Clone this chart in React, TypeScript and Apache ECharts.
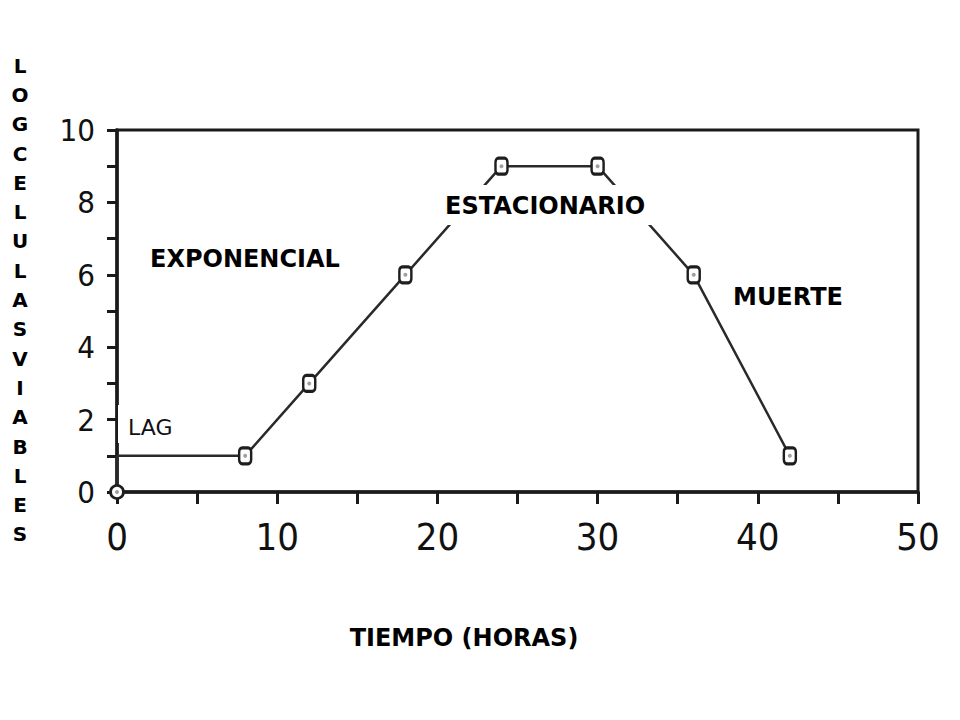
import React, { useEffect, useRef } from "react";
import * as echarts from "echarts";

// Data
const hours = [0, 0, 8, 12, 18, 24, 30, 36, 42];
const logViableCells = [0, 1, 1, 3, 6, 9, 9, 6, 1];
const pointSymbols = ["circle", "none", "roundRect", "roundRect", "roundRect", "roundRect", "roundRect", "roundRect", "roundRect"];
const xTickLabels = [0, 10, 20, 30, 40, 50];
const yTickLabels = [0, 2, 4, 6, 8, 10];
const phaseLabels = ["LAG", "EXPONENCIAL", "ESTACIONARIO", "MUERTE"];
const yTitle = "LOGCELULASVIABLES";
const xTitle = "TIEMPO (HORAS)";

const narrow = "'Liberation Sans Narrow', 'DejaVu Sans Condensed', 'Liberation Sans', sans-serif";
const bold = "'DejaVu Sans', Verdana, sans-serif";

export default function App() {
  const ref = useRef<HTMLDivElement>(null);
  useEffect(() => {
    if (!ref.current) return;
    const chart = echarts.init(ref.current, undefined, { renderer: "svg" });
    const data = hours.map((h, i) => ({
      value: [h, logViableCells[i]],
      symbol: pointSymbols[i],
      symbolSize: pointSymbols[i] === "circle" ? [13, 13] : [12, 16],
    }));
    const dots = hours
      .map((h, i) => ({ value: [h, logViableCells[i]], show: pointSymbols[i] !== "none" }))
      .filter((d) => d.show)
      .map((d) => d.value);
    chart.setOption({
      animation: false,
      backgroundColor: "#ffffff",
      grid: {
        left: 117,
        right: 42,
        top: 130,
        bottom: 228,
        show: true,
        borderColor: "#1a1a1a",
        borderWidth: 3,
      },
      xAxis: {
        type: "value",
        min: 0,
        max: 50,
        interval: 5,
        axisLine: { show: true, lineStyle: { color: "#1a1a1a", width: 3.5 } },
        axisTick: { show: true, length: 12, lineStyle: { color: "#1a1a1a", width: 3 } },
        axisLabel: {
          formatter: (v: number) => (xTickLabels.includes(v) ? String(v) : ""),
          fontSize: 38,
          fontFamily: narrow,
          color: "#111",
          margin: 26,
        },
        splitLine: { show: false },
      },
      yAxis: {
        type: "value",
        min: 0,
        max: 10,
        interval: 1,
        axisLine: { show: true, lineStyle: { color: "#1a1a1a", width: 3.5 } },
        axisTick: { show: true, length: 10, lineStyle: { color: "#1a1a1a", width: 3 } },
        axisLabel: {
          formatter: (v: number) => (yTickLabels.includes(v) ? String(v) : ""),
          fontSize: 31,
          fontFamily: narrow,
          color: "#111",
          margin: 22,
        },
        splitLine: { show: false },
      },
      series: [
        {
          type: "line",
          data,
          lineStyle: { color: "#2a2a2a", width: 2.5 },
          itemStyle: { color: "#ffffff", borderColor: "#1e1e1e", borderWidth: 2.8 },
          z: 3,
        },
        {
          type: "scatter",
          data: dots,
          symbol: "circle",
          symbolSize: 4,
          itemStyle: { color: "#888" },
          z: 4,
          silent: true,
        },
      ],
      graphic: [
        { type: "rect", z: 100, shape: { x: 118, y: 405, width: 64, height: 38 }, style: { fill: "#fff" } },
        {
          type: "text", z: 101, x: 128, y: 427,
          style: { text: phaseLabels[0], font: `22px ${bold}`, fill: "#111", textVerticalAlign: "middle" },
        },
        {
          type: "text", z: 101, x: 150, y: 259,
          style: { text: phaseLabels[1], font: `bold 24px ${bold}`, fill: "#000", textVerticalAlign: "middle" },
        },
        { type: "rect", z: 100, shape: { x: 440, y: 185, width: 215, height: 40 }, style: { fill: "#fff" } },
        {
          type: "text", z: 101, x: 445, y: 206,
          style: { text: phaseLabels[2], font: `bold 24px ${bold}`, fill: "#000", textVerticalAlign: "middle" },
        },
        {
          type: "text", z: 101, x: 733, y: 297,
          style: { text: phaseLabels[3], font: `bold 24px ${bold}`, fill: "#000", textVerticalAlign: "middle" },
        },
        {
          type: "text", z: 101, x: 20, y: 300,
          style: {
            text: yTitle.split("").join("\n"),
            font: `bold 20px ${bold}`,
            lineHeight: 29.3,
            fill: "#000",
            textAlign: "center",
            textVerticalAlign: "middle",
          },
        },
        {
          type: "text", z: 101, x: 464, y: 638,
          style: { text: xTitle, font: `bold 24px ${bold}`, fill: "#000", textAlign: "center", textVerticalAlign: "middle" },
        },
      ],
    });
    return () => chart.dispose();
  }, []);
  return (
    <div
      ref={ref}
      style={{ position: "absolute", left: 0, top: 0, width: 960, height: 720, background: "#fff" }}
    />
  );
}
